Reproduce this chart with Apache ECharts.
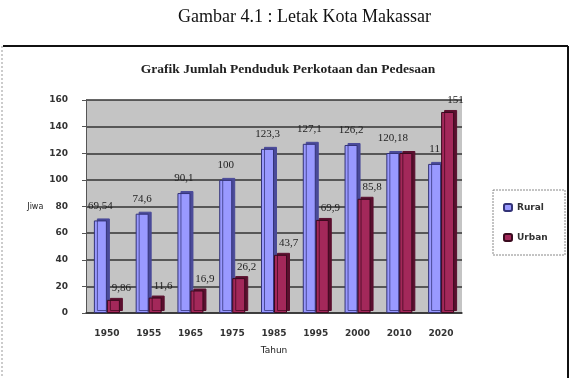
<!DOCTYPE html>
<html lang="id">
<head>
    <meta charset="UTF-8">
    <title>Grafik Jumlah Penduduk Perkotaan dan Pedesaan</title>
    <script src="https://cdn.jsdelivr.net/npm/echarts@6/dist/echarts.min.js"></script>
    <style>
        body { margin: 0; background: #fff; }
        #chart { width: 576px; height: 378px; }
    </style>
</head>
<body>
    <div id="chart"></div>
    <script>
        // data
        const years = ['1950', '1955', '1965', '1975', '1985', '1995', '2000', '2010', '2020'];
        const rural = [69.54, 74.6, 90.1, 100, 123.3, 127.1, 126.2, 120.18, 112];
        const urban = [9.86, 11.6, 16.9, 26.2, 43.7, 69.9, 85.8, 120.18, 151];
        const ruralLabels = ['69,54', '74,6', '90,1', '100', '123,3', '127,1', '126,2', '120,18', '11'];
        const urbanLabels = ['9,86', '11,6', '16,9', '26,2', '43,7', '69,9', '85,8', '', '151'];

        const chart = echarts.init(document.getElementById('chart'));

        const labelStyle = {
            show: true,
            position: 'top',
            distance: 9,
            fontFamily: 'Liberation Serif',
            fontSize: 11,
            color: '#222'
        };

        chart.setOption({
            animation: false,
            title: [{
                text: 'Gambar 4.1 : Letak Kota Makassar',
                left: 173,
                top: 3,
                textStyle: { fontFamily: 'Liberation Serif', fontSize: 18, fontWeight: 'normal', color: '#111' }
            }, {
                text: 'Grafik Jumlah Penduduk Perkotaan dan Pedesaan',
                left: 'center',
                top: 58,
                textStyle: { fontFamily: 'Liberation Serif', fontSize: 13.5, fontWeight: 'bold', color: '#222' }
            }],
            graphic: [
                // outer frame
                { type: 'line', shape: { x1: 3, y1: 46, x2: 568, y2: 46 }, style: { stroke: '#111', lineWidth: 2 } },
                { type: 'line', shape: { x1: 568, y1: 46, x2: 568, y2: 378 }, style: { stroke: '#111', lineWidth: 2 } },
                { type: 'line', shape: { x1: 2, y1: 46, x2: 2, y2: 378 }, style: { stroke: '#999', lineWidth: 1, lineDash: [2, 2] } },
                // legend frame
                { type: 'rect', shape: { x: 493, y: 190, width: 72, height: 65 }, style: { fill: '#fff', stroke: '#888', lineWidth: 1, lineDash: [2, 1] }, z: 0 }
            ],
            legend: {
                orient: 'vertical',
                left: 498,
                top: 198,
                itemWidth: 8,
                itemHeight: 7,
                itemGap: 21,
                textStyle: { fontFamily: 'DejaVu Sans', fontSize: 9, fontWeight: 'bold', color: '#333' },
                data: ['Rural', 'Urban']
            },
            grid: {
                left: 86,
                right: 114,
                top: 100,
                bottom: 65,
                show: true,
                backgroundColor: '#c4c4c4',
                borderWidth: 0
            },
            xAxis: {
                type: 'category',
                data: years,
                name: 'Tahun',
                nameLocation: 'middle',
                nameGap: 33,
                nameTextStyle: { fontFamily: 'DejaVu Sans', fontSize: 9, color: '#222' },
                axisLine: { lineStyle: { color: '#333', width: 1.5 } },
                axisTick: { show: false },
                axisLabel: { margin: 16, fontFamily: 'DejaVu Sans', fontSize: 9, fontWeight: 'bold', color: '#333' }
            },
            yAxis: {
                type: 'value',
                min: 0,
                max: 160,
                interval: 20,
                name: 'Jiwa',
                nameLocation: 'middle',
                nameRotate: 0,
                nameGap: 33,
                nameTextStyle: { fontFamily: 'DejaVu Sans', fontSize: 8, color: '#222', align: 'right' },
                axisLine: { show: true, lineStyle: { color: '#555' } },
                axisTick: { show: true, length: 4, lineStyle: { color: '#555' } },
                axisLabel: { margin: 18, fontFamily: 'DejaVu Sans', fontSize: 9, fontWeight: 'bold', color: '#333' },
                splitLine: { lineStyle: { color: '#333', width: 1.5 } }
            },
            series: [{
                name: 'Rural',
                type: 'bar',
                data: rural,
                barWidth: 13,
                barGap: '0%',
                itemStyle: {
                    color: '#9999ff',
                    borderColor: '#333377',
                    borderWidth: 1,
                    shadowColor: '#4a4a99',
                    shadowBlur: 0,
                    shadowOffsetX: 3,
                    shadowOffsetY: -2
                },
                label: Object.assign({}, labelStyle, {
                    offset: [0, 0],
                    formatter: p => ruralLabels[p.dataIndex]
                })
            }, {
                name: 'Urban',
                type: 'bar',
                data: urban,
                barWidth: 13,
                barGap: '0%',
                itemStyle: {
                    color: '#a3285a',
                    borderColor: '#3a0a1e',
                    borderWidth: 1,
                    shadowColor: '#5a0f2e',
                    shadowBlur: 0,
                    shadowOffsetX: 3,
                    shadowOffsetY: -2
                },
                label: Object.assign({}, labelStyle, {
                    distance: 6,
                    offset: [8, 0],
                    formatter: p => urbanLabels[p.dataIndex]
                })
            }]
        });
    </script>
</body>
</html>
